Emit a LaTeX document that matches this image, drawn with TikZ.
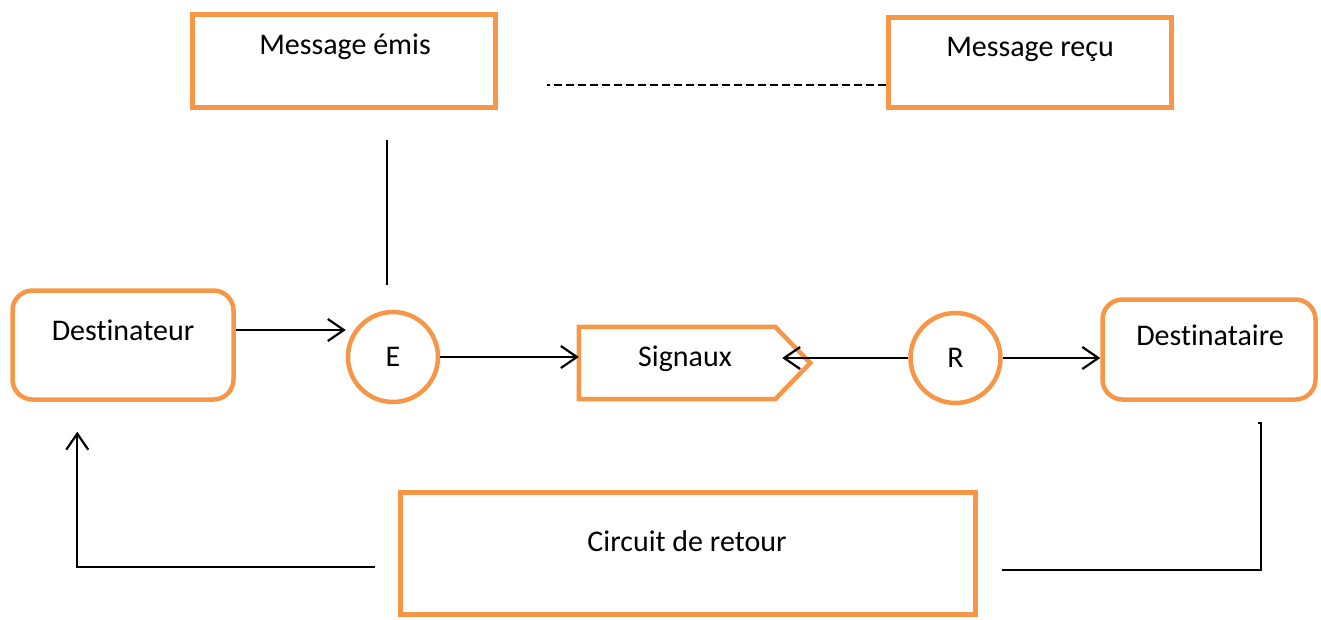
\documentclass[tikz,border=0pt]{standalone}
\usepackage{fontspec}
\setmainfont[Ligatures=NoCommon]{Carlito}
\usetikzlibrary{arrows.meta}
\definecolor{accent}{HTML}{F79646}
\begin{document}
\begin{tikzpicture}[x=1pt,y=-1pt,
  every node/.style={font=\fontsize{30}{36}\selectfont},
  box/.style={draw=accent,line width=4.5pt,fill=white,inner sep=0pt},
  rbox/.style={box,rounded corners=20pt},
  disc/.style={draw=accent,line width=4.5pt,circle,minimum size=90pt,inner sep=0pt},
  link/.style={line width=2.2pt},
  arr/.style={link,-{Straight Barb[length=16pt,width=22pt,line width=2.2pt]}}]
\useasboundingbox (0,0) rectangle (1321,619);

% upper boxes
\node[box,minimum width=303pt,minimum height=93pt] (memis) at (344,61) {};
\node at (345,47) {Message émis};
\node[box,minimum width=283pt,minimum height=90pt] (mrecu) at (1030,62.5) {};
\node at (1030,49) {Message reçu};

% main chain
\node[rbox,minimum width=221pt,minimum height=109pt] (dest) at (123,345) {};
\node at (123,330) {Destinateur};
\node[disc] (E) at (393,357) {E};

\node[inner sep=0pt,minimum width=196pt,minimum height=72pt] (sig) at (677,363) {};
\draw[accent,line width=4.5pt,line join=miter]
  (sig.north west) -- (sig.north east) -- ([xshift=35pt]sig.east)
  -- (sig.south east) -- (sig.south west) -- cycle;
\node at (685,359) {Signaux};

\node[disc] (R) at (955.5,358) {R};
\node[rbox,minimum width=213pt,minimum height=100pt] (dtr) at (1209,349.5) {};
\node at (1210,335) {Destinataire};

\node[box,minimum width=575pt,minimum height=122pt] (circ) at (688,553.5) {};
\node at (687,541) {Circuit de retour};

% connectors
\draw[link] ([shift={(43,30)}]memis.south) -- ++(0,145);
\draw[link,dash pattern=on 8pt off 4pt] ([yshift=-22.5pt]mrecu.west) -- ++(-339,0);

\draw[arr] ([yshift=15pt]dest.east) -- ([yshift=15pt]dest.east -| E.west);
\draw[arr] (E.east) -- (E.east -| sig.west);
\coordinate (sigtip) at ([xshift=7pt]sig.east);
\draw[arr] (R.west) -- (R.west -| sigtip);
\draw[arr] (R.east) -- (R.east -| dtr.west);

\coordinate (fbL) at ([shift={(-23,13.5)}]circ.west);
\draw[arr] (fbL) -| ([shift={(67,30)}]dest.south west);
\coordinate (fbR) at ([shift={(24,16.5)}]circ.east);
\draw[link] (fbR) -| ([shift={(-57,21)}]dtr.south east) -- ++(-3,0);
\end{tikzpicture}
\end{document}
